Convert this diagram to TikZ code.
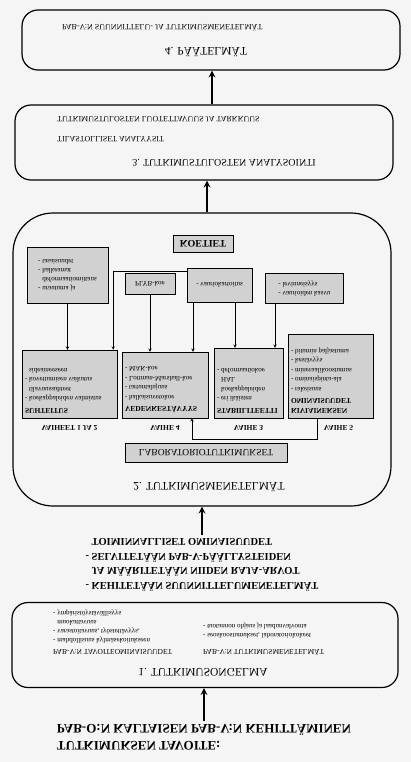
\documentclass[tikz,border=0pt]{standalone}
\usepackage{fontspec}
\setmainfont{Liberation Serif}
\usetikzlibrary{positioning}
\usetikzlibrary{calc}

\begin{document}
\begin{tikzpicture}[
        x=1pt, y=1pt, yscale=-1, transform shape,
        >=stealth,
        stage/.style={draw, line width=1.2pt, rounded corners=16pt},
        stagetitle/.style={font=\fontsize{11.5}{13}\selectfont},
        subhead/.style={anchor=west, inner sep=0pt, font=\fontsize{7.5}{9}\selectfont},
        itemlist/.style={anchor=west, inner sep=0pt, align=left,
                    font=\fontsize{7}{8.8}\selectfont},
        aimtext/.style={align=left, font=\bfseries\fontsize{10.5}{14.5}\selectfont},
        dotbox/.style={draw, fill=black!18, line width=0.4pt, inner sep=2pt,
                    font=\fontsize{7}{9}\selectfont},
        phasetext/.style={anchor=north west, inner sep=0pt, align=left,
                    font=\fontsize{7}{9.5}\selectfont},
        phaselabel/.style={font=\bfseries\fontsize{7.5}{9}\selectfont},
        bigarrow/.style={->, line width=2pt},
        feed/.style={->, line width=0.5pt}
    ]

    % sheet
    \fill[black!4] (0,0) rectangle (411,762);
    \useasboundingbox (0,0) rectangle (411,762);

    % ------- aim of the study -------
    \node[align=left, font=\bfseries\fontsize{13}{17}\selectfont] (goal) at (204,737)
        {TUTKIMUKSEN TAVOITE:\\PAB-O:N KALTAISEN PAB-V:N KEHITTÄMINEN};

    % ------- 1. research problem -------
    \node[stage, minimum width=386pt, minimum height=85pt] (box1) at (205,645) {};
    \node[stagetitle] (t1) at (203,672) {1. TUTKIMUSONGELMA};
    \node[subhead] (h1a) at (53,652) {PAB-V:N TAVOITEOMINAISUUDET};
    \node[subhead] (h1b) at (203,652) {PAB-V:N TUTKIMUSMENETELMÄT};
    \node[itemlist] (l1a) at (53,626.5) {- mahdollisuus kylmäsekoitukseen\\- varastoitavuus, työstettävyys,\\\phantom{- }muokattavuus\\- ympäristöystävällisyys};
    \node[itemlist] (l1b) at (203,631) {- seoskoostumukset, laboratoriokokeet\\- tuotannon ohjaus ja laadunvalvonta};

    \draw[bigarrow] (goal) -- (goal |- box1.north);

    % ------- what is done -------
    \node[aimtext] (aims) at (202,565) {- KEHITETÄÄN SUUNNITTELUMENETELMÄT\\\phantom{- }JA MÄÄRITETÄÄN NIIDEN RAJA-ARVOT\\- SELVITETÄÄN PAB-V-PÄÄLLYSTEIDEN\\\phantom{- }TOIMINNALLISET OMINAISUUDET};

    % ------- 2. research methods -------
    \node[stage, rounded corners=40pt, minimum width=378pt, minimum height=293pt] (box2) at (202,359.5) {};
    \draw[bigarrow] (aims) -- (aims |- box2.north);

    \node[stagetitle] (t2) at (209,487) {2. TUTKIMUSMENETELMÄT};
    \node[dotbox, minimum width=162pt, minimum height=19pt, font=\fontsize{9.5}{11}\selectfont] (lab) at (206,452.5) {LABORATORIOTUTKIMUKSET};

    % phases
    \node[dotbox, minimum width=95pt, minimum height=68pt] (s1) at (69.5,384) {};
    \node[dotbox, minimum width=86pt, minimum height=66pt] (s4) at (165,385) {};
    \node[dotbox, minimum width=69pt, minimum height=70pt] (s3) at (248.5,383) {};
    \node[dotbox, minimum width=85pt, minimum height=84pt] (s5) at (330.5,376) {};

    \node[phasetext] (s1txt) at ($(s1.north west)+(3,-5)$) {\textbf{\fontsize{7.5}{9}\selectfont SUHTEITUS}\\[2pt]- koekappaleiden valmistus\\\phantom{- }tilavuussuhteet\\- kovettumisen vaikutus\\\phantom{- }sideaineeseen};
    \node[phasetext] (s4txt) at ($(s4.north west)+(3,-5)$) {\textbf{\fontsize{7.5}{9}\selectfont VEDENKESTÄVYYS}\\[2pt]- halkaisuvetokoe\\- tartuntalujuus\\- Lottman-Marshall-koe\\- MAK-koe};
    \node[phasetext] (s3txt) at ($(s3.north west)+(3,-5)$) {\textbf{\fontsize{7.5}{9}\selectfont STABIILITEETTI}\\[2pt]- eri ikäisten\\\phantom{- }koekappaleiden\\\phantom{- }HAL\\- deformaatiokoe};
    \node[phasetext] (s5txt) at ($(s5.north west)+(3,-5)$) {\textbf{\fontsize{7.5}{9}\selectfont KIVIAINEKSEN}\\\textbf{\fontsize{7.5}{9}\selectfont OMINAISUUDET}\\[2pt]- rakeisuus\\- ominaispinta-ala\\- mineraalikoostumus\\- kestävyys\\- bitumin paljastuma};

    \node[phaselabel, above=4pt of s1] (v12) {VAIHEET 1 JA 2};
    \node[phaselabel, above=4pt of s4] (v4) {VAIHE 4};
    \node[phaselabel, above=4pt of s3] (v3) {VAIHE 3};
    \node[phaselabel, above=4pt of s5, xshift=8pt] (v5) {VAIHE 5};

    % test roads
    \node[dotbox, minimum width=60pt, minimum height=17pt, font=\bfseries\fontsize{10}{12}\selectfont] (koe) at (203,243.5) {KOETIET};
    \node[dotbox, minimum width=81pt, minimum height=56pt, align=left] (ra) at (67.5,275) {- urautuma ja\\\phantom{- }deformaatiomittaus\\- halkeamat\\- tasaisuudet};
    \node[dotbox, minimum width=50pt, minimum height=21pt] (rb) at (150,283.5) {PLYB-koe};
    \node[dotbox, minimum width=65pt, minimum height=34pt] (rc) at (219.5,285) {- vauriokartoitus};
    \node[dotbox, minimum width=78pt, minimum height=30pt, align=left] (rd) at (304.5,288.5) {- vaurioiden kasvu\\- levinneisyys};

    \draw[feed] (ra) -- (ra |- s1.south);
    \draw[feed] ($(rc.south west)+(0,3)$) -| ($(s1.south east)+(-4,0)$);
    \draw[feed] (rb) -- (rb |- s4.south);
    \coordinate (rc1) at ($(rc.north)+(-26.5,0)$);
    \coordinate (rc2) at ($(rc.north)+(15.5,0)$);
    \coordinate (rd1) at ($(rd.north)+(-29.5,0)$);
    \draw[feed] (rc1) -- (rc1 |- s4.south);
    \draw[feed] (rc2) -- (rc2 |- s3.south);
    \draw[feed] (rd1) -- (rd1 |- s3.south);

    % phase 5 back to phase 4
    \coordinate (k5) at ($(s5.north)+(-13.5,0)$);
    \draw[feed] (k5) -- ++(0,21) -| ($(s4.north)+(27,0)$);

    % ------- 3. analysis -------
    \node[stage, minimum width=378pt, minimum height=75pt] (box3) at (204,142.5) {};
    \node[stagetitle, font=\fontsize{10}{12}\selectfont] (t3) at (224,163) {3. TUTKIMUSTULOSTEN ANALYSOINTI};
    \node[subhead, font=\fontsize{8}{10}\selectfont] (h3a) at (57,139) {TILASTOLLISET ANALYYSIT};
    \node[subhead, font=\fontsize{8}{10}\selectfont] (h3b) at (57,119) {TUTKIMUSTULOSTEN LUOTETTAVUUS JA TARKKUUS};
    \coordinate (a3) at ($(box2.south)+(5,0)$);
    \draw[bigarrow] (a3) -- (a3 |- box3.north);

    % ------- 4. conclusions -------
    \node[stage, minimum width=378pt, minimum height=60pt] (box4) at (211,40) {};
    \node[stagetitle] (t4) at (206,52) {4. PÄÄTELMÄT};
    \node[subhead, font=\fontsize{8}{10}\selectfont] (h4a) at (62,28) {PAB-V:N SUUNNITTELU- JA TUTKIMUSMENETELMÄT};
    \coordinate (a4) at ($(box3.south)+(8,0)$);
    \draw[bigarrow] (a4) -- (a4 |- box4.north);

\end{tikzpicture}
\end{document}
